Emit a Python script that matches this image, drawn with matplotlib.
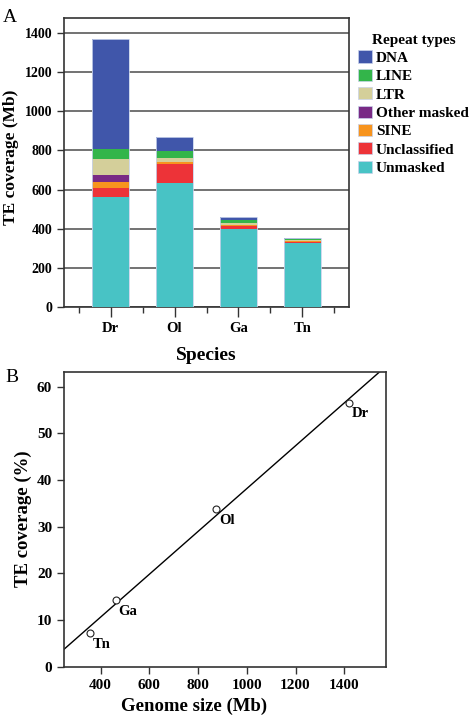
import numpy as np
import matplotlib
matplotlib.use('Agg')
import matplotlib.pyplot as plt
from matplotlib.patches import Patch

plt.rcParams['font.family'] = ['Liberation Serif', 'DejaVu Serif']
plt.rcParams['font.weight'] = 'bold'
plt.rcParams['axes.labelweight'] = 'bold'

# panel A: stacked coverage per species (Mb)
species = ['Dr', 'Ol', 'Ga', 'Tn']
repeat_types = ['Unmasked', 'Unclassified', 'SINE', 'Other masked', 'LTR', 'LINE', 'DNA']
unmasked = [562, 632, 400, 325]
unclassified = [44, 101, 12, 8]
sine = [31, 6, 5, 3]
other_masked = [36, 3, 2, 2]
ltr = [82, 19, 12, 4]
line = [53, 36, 14, 5]
dna = [563, 73, 16, 4]
colors = {'Unmasked': '#48C3C5', 'Unclassified': '#ED3338', 'SINE': '#F7941E',
          'Other masked': '#792A85', 'LTR': '#D4CF9A', 'LINE': '#33B54A', 'DNA': '#4056AA'}

# panel B: genome size vs TE coverage
genome_size = [1418, 873, 462, 357]
te_pct = [56.6, 33.7, 14.3, 7.2]

fig = plt.figure(figsize=(4.72, 7.19), dpi=100)
axA = fig.add_axes([0.1356, 0.573, 0.6038, 0.4015])
axB = fig.add_axes([0.1356, 0.0727, 0.6816, 0.4103])

edge = '#333333'

# ---- A ----
x = np.arange(len(species))
bottom = np.zeros(len(species))
layers = [unmasked, unclassified, sine, other_masked, ltr, line, dna]
for name, vals in zip(repeat_types, layers):
    axA.bar(x, vals, 0.58, bottom=bottom, color=colors[name],
            edgecolor='none', linewidth=0, zorder=3)
    bottom += np.array(vals)
# faint outline round each full bar
axA.bar(x, bottom, 0.58, fill=False, edgecolor='#c8d2ea', linewidth=0.6, zorder=4)

axA.set_xlim(-0.73, 3.73)
axA.set_ylim(0, 1475)
axA.set_yticks(np.arange(0, 1401, 200))
axA.set_xticks(x)
axA.set_xticklabels(species, fontsize=10.5)
axA.set_xticks(np.arange(-0.5, 3.6, 1), minor=True)
axA.tick_params(axis='y', labelsize=10, length=5, width=1, color=edge)
axA.tick_params(axis='x', which='major', length=7, width=1, color=edge, pad=4)
axA.tick_params(axis='x', which='minor', length=4, width=1, color=edge)
axA.yaxis.grid(True, color='#5a5a5a', linewidth=1.2)
axA.set_axisbelow(True)
for s in axA.spines.values():
    s.set_color(edge)
    s.set_linewidth(1.2)
axA.set_ylabel('TE coverage (Mb)', fontsize=12.5)
axA.yaxis.set_label_coords(-0.158, 0.52)
axA.set_xlabel('Species', fontsize=14)
axA.xaxis.set_label_coords(0.5, -0.137)

handles = [Patch(facecolor=colors[n], edgecolor='#c8d2ea', linewidth=0.5)
           for n in repeat_types[::-1]]
leg = axA.legend(handles, repeat_types[::-1], title='Repeat types', loc='upper left',
                 bbox_to_anchor=(1.02, 0.958), frameon=False, fontsize=11,
                 title_fontproperties={'size': 11, 'weight': 'bold'},
                 handlelength=0.95, handleheight=0.85, handletextpad=0.25,
                 labelspacing=0.26, borderaxespad=0.0, borderpad=0.2)

fig.text(0.006, 0.987, 'A', fontsize=14, fontweight='normal', va='top', ha='left')

# ---- B ----
slope, intercept = np.polyfit(genome_size, te_pct, 1)
xx = np.array([250, 1570])
axB.plot(xx, slope * xx + intercept, color='black', linewidth=1.0, zorder=2)
axB.plot(genome_size, te_pct, 'o', markersize=5, markerfacecolor='white',
         markeredgecolor='#222222', markeredgewidth=0.8, zorder=3)
for gx, gy, lab in zip(genome_size, te_pct, species):
    axB.annotate(lab, (gx, gy), xytext=(2.2, -3.5), textcoords='offset points',
                 ha='left', va='top', fontsize=10.5)

axB.set_xlim(250, 1570)
axB.set_ylim(0, 63.2)
axB.set_xticks(np.arange(400, 1401, 200))
axB.set_yticks(np.arange(0, 61, 10))
axB.tick_params(labelsize=11, length=5, width=1, color=edge)
for s in axB.spines.values():
    s.set_color(edge)
    s.set_linewidth(1.2)
axB.set_xlabel('Genome size (Mb)', fontsize=13.5)
axB.xaxis.set_label_coords(0.404, -0.106)
axB.set_ylabel('TE coverage (%)', fontsize=13.5)
axB.yaxis.set_label_coords(-0.1, 0.503)

fig.text(0.012, 0.487, 'B', fontsize=14, fontweight='normal', va='top', ha='left')

fig.savefig('out.png', dpi=100)
